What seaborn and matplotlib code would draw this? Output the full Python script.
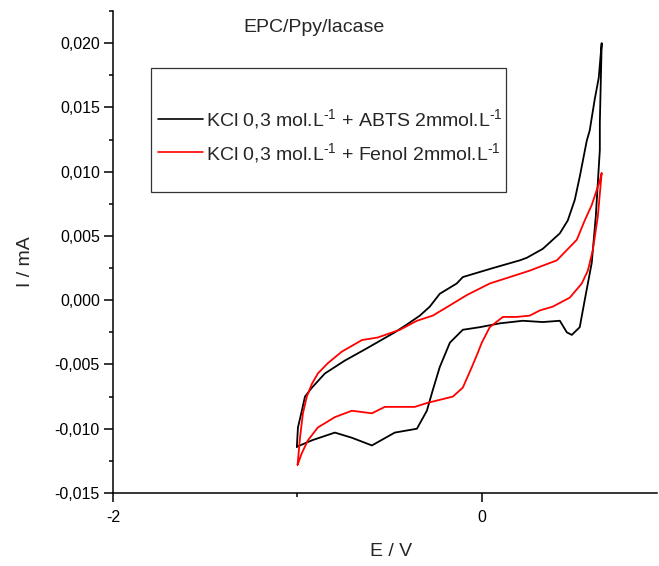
import numpy as np
import pandas as pd
import matplotlib
matplotlib.use("Agg")
import matplotlib.pyplot as plt
from matplotlib.ticker import MultipleLocator, FuncFormatter
from matplotlib.patches import Rectangle
from matplotlib.lines import Line2D
import seaborn as sns

# ---- data (E / V, I / mA) ----
abts_fwd_E = [-1.003, -0.986, -0.921, -0.797, -0.705, -0.596, -0.472, -0.352, -0.298, -0.266,
              -0.228, -0.173, -0.103, -0.011, 0.098, 0.222, 0.331, 0.423, 0.461, 0.488,
              0.531, 0.558, 0.575, 0.596, 0.618, 0.629, 0.640, 0.640, 0.650]
abts_fwd_I = [-0.0114, -0.0113, -0.0109, -0.0103, -0.0107, -0.0113, -0.0103, -0.0100, -0.0086, -0.0070,
              -0.0052, -0.0033, -0.0023, -0.0021, -0.0018, -0.0016, -0.0017, -0.0016, -0.0025, -0.0027,
              -0.0021, 0.0000, 0.0013, 0.0029, 0.0065, 0.0091, 0.0117, 0.0138, 0.0200]
abts_rev_E = [0.650, 0.640, 0.634, 0.612, 0.585, 0.569, 0.531, 0.504, 0.466, 0.423,
              0.331, 0.244, 0.206, 0.060, -0.103, -0.136, -0.228, -0.282, -0.336, -0.407,
              -0.472, -0.618, -0.743, -0.851, -0.921, -0.959, -0.976, -0.997, -1.003]
abts_rev_I = [0.0200, 0.0183, 0.0173, 0.0156, 0.0132, 0.0124, 0.0096, 0.0078, 0.0062, 0.0052,
              0.0040, 0.0033, 0.0031, 0.0025, 0.0018, 0.0013, 0.0005, -0.0005, -0.0012, -0.0019,
              -0.0025, -0.0037, -0.0047, -0.0057, -0.0068, -0.0075, -0.0086, -0.0099, -0.0114]

fenol_fwd_E = [-0.999, -0.976, -0.943, -0.889, -0.797, -0.705, -0.596, -0.526, -0.363, -0.298,
               -0.157, -0.103, -0.054, -0.022, 0.000, 0.043, 0.114, 0.190, 0.260, 0.314,
               0.385, 0.477, 0.542, 0.575, 0.602, 0.629, 0.650]
fenol_fwd_I = [-0.0128, -0.0119, -0.0109, -0.0099, -0.0091, -0.0086, -0.0088, -0.0083, -0.0083, -0.0080,
               -0.0075, -0.0068, -0.0052, -0.0041, -0.0033, -0.0021, -0.0013, -0.0013, -0.0012, -0.0008,
               -0.0005, 0.0002, 0.0013, 0.0023, 0.0039, 0.0065, 0.0099]
fenol_rev_E = [0.650, 0.640, 0.596, 0.558, 0.515, 0.461, 0.407, 0.314, 0.260, 0.152,
               0.043, -0.081, -0.173, -0.266, -0.352, -0.444, -0.564, -0.650, -0.759, -0.835,
               -0.889, -0.921, -0.949, -0.970, -0.986, -0.999]
fenol_rev_I = [0.0099, 0.0093, 0.0074, 0.0062, 0.0047, 0.0039, 0.0031, 0.0026, 0.0023, 0.0018,
               0.0013, 0.0004, -0.0004, -0.0012, -0.0016, -0.0023, -0.0029, -0.0031, -0.0040, -0.0049,
               -0.0057, -0.0065, -0.0075, -0.0088, -0.0107, -0.0128]

labels = [r"KCl 0,3 mol.L$^{\text{-1}}$ + ABTS 2mmol.L$^{\text{-1}}$",
          r"KCl 0,3 mol.L$^{\text{-1}}$ + Fenol 2mmol.L$^{\text{-1}}$"]
colors = ["#000000", "#ff0000"]
title = "EPC/Ppy/lacase"
x_label = "E / V"
y_label = "I / mA"

# ---- build table ----
rows = []
for lab, E, I in [(labels[0], abts_fwd_E + abts_rev_E, abts_fwd_I + abts_rev_I),
                  (labels[1], fenol_fwd_E + fenol_rev_E, fenol_fwd_I + fenol_rev_I)]:
    for k, (e, i) in enumerate(zip(E, I)):
        rows.append({"series": lab, "order": k, "E": e, "I": i})
df = pd.DataFrame(rows)

sns.set_theme(style="ticks")
plt.rcParams["font.family"] = ["Liberation Sans", "DejaVu Sans"]
plt.rcParams["mathtext.default"] = "regular"
plt.rcParams["mathtext.fontset"] = "custom"
plt.rcParams["mathtext.rm"] = "Liberation Sans"

W, H = 659, 566
fig = plt.figure(figsize=(W / 100, H / 100), dpi=100)
fig.patch.set_facecolor("white")
ax = fig.add_axes([113 / W, 1 - 493 / H, (657 - 113) / W, (493 - 11) / H])
ax.set_facecolor("white")

sns.lineplot(data=df, x="E", y="I", hue="series", units="series", sort=False,
             estimator=None, palette=dict(zip(labels, colors)), linewidth=1.3,
             legend=False, ax=ax)

ax.set_xlim(-2.0, 0.95)
ax.set_ylim(-0.015, 0.0225)
ax.set_xlabel("")
ax.set_ylabel("")

for s in ["top", "right"]:
    ax.spines[s].set_visible(False)
for s in ["left", "bottom"]:
    ax.spines[s].set_linewidth(1.1)
    ax.spines[s].set_color("black")

ax.xaxis.set_major_locator(MultipleLocator(2))
ax.xaxis.set_minor_locator(MultipleLocator(1))
ax.yaxis.set_major_locator(MultipleLocator(0.005))
ax.yaxis.set_minor_locator(MultipleLocator(0.0025))
ax.yaxis.set_major_formatter(FuncFormatter(lambda v, p: f"{v:.3f}".replace(".", ",").replace("-0,000", "0,000")))
ax.xaxis.set_major_formatter(FuncFormatter(lambda v, p: f"{v:.0f}"))
ax.tick_params(which="major", direction="out", length=6.5, width=1.1, colors="black",
               labelsize=11.5, pad=3)
ax.tick_params(which="minor", direction="out", length=3, width=1.1, colors="black")
ax.tick_params(axis="x", which="major", pad=6)

fig.text(314 / W, 1 - 27 / H, title, ha="center", va="center", fontsize=14)
fig.text(391 / W, 1 - 551 / H, x_label, ha="center", va="center", fontsize=14)
fig.text(25 / W, 1 - 262 / H, y_label, ha="center", va="center", rotation=90, fontsize=14)

# legend
handles = [Line2D([], [], color=c, lw=1.2) for c in colors]
leg = ax.legend(handles, labels, frameon=False, loc="upper left",
                bbox_to_anchor=(158 / W, 1 - 107 / H), bbox_transform=fig.transFigure,
                fontsize=14, handlelength=2.3, handletextpad=0.15, labelspacing=0.5,
                borderpad=0, borderaxespad=0)
fig.patches.append(Rectangle((150.7 / W, 1 - 192 / H), (506 - 150.7) / W, 124 / H,
                             transform=fig.transFigure, fill=False, edgecolor="#333333",
                             linewidth=0.9))

fig.savefig("out.png", dpi=100, facecolor="white")
